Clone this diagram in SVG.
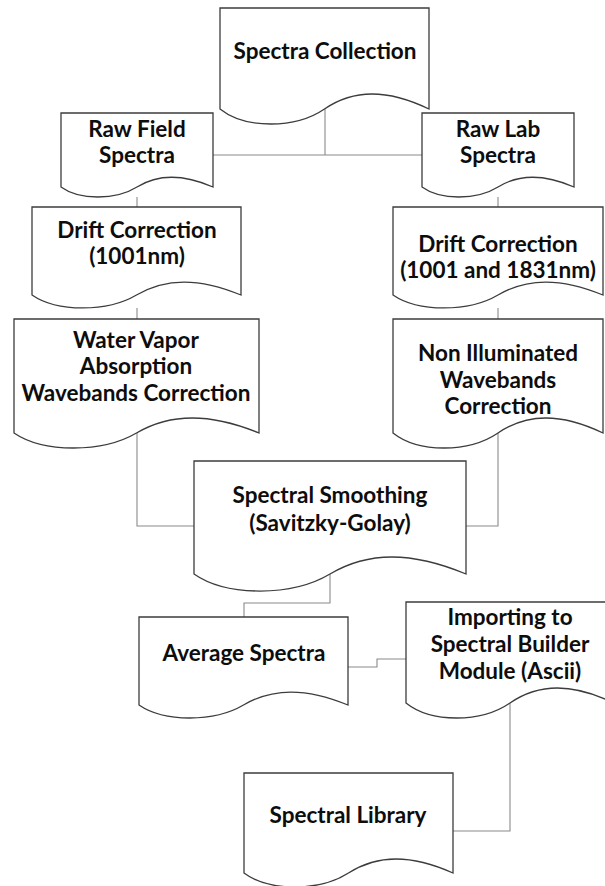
<svg xmlns="http://www.w3.org/2000/svg" width="605" height="886" viewBox="0 0 605 886">
<style>
.box{fill:#ffffff;stroke:#3c3c3c;stroke-width:1.3;stroke-linejoin:miter}
.t{font-family:Lato,"Open Sans","Liberation Sans",sans-serif;font-weight:bold;font-size:22.5px;fill:#0d0d0d;text-anchor:middle}
.c{fill:none;stroke:#8a8a8a;stroke-width:1.1}
</style>
<rect width="605" height="886" fill="#ffffff"/>
<g id="connectors">
<path class="c" d="M325,109 V155 M213,155 H422"/>
<path class="c" d="M137,197 V207"/>
<path class="c" d="M498,197 V207"/>
<path class="c" d="M137,308 V319"/>
<path class="c" d="M498,308 V319"/>
<path class="c" d="M137,433 V526 H194"/>
<path class="c" d="M498,433 V526 H466"/>
<path class="c" d="M330,574 V603 H244 V617"/>
<path class="c" d="M348,667 H377 V659 H406"/>
<path class="c" d="M510,703 V831 H453"/>
</g>
<g id="spectra-collection">
<path class="box" d="M220,8 H429 V109 C387.2,89 353.8,89 324.5,109 C295.2,129 245.1,129 220,109 Z"/>
<text class="t" x="325" y="59">Spectra Collection</text>
</g>
<g id="raw-field">
<path class="box" d="M61,113 H213 V187 C182.6,173.7 158.3,173.7 137,187 C115.7,200.3 79.2,200.3 61,187 Z"/>
<text class="t" x="137" y="137">Raw Field</text>
<text class="t" x="137" y="163">Spectra</text>
</g>
<g id="raw-lab">
<path class="box" d="M422,113 H574 V187 C543.6,173.7 519.3,173.7 498,187 C476.7,200.3 440.2,200.3 422,187 Z"/>
<text class="t" x="498" y="137">Raw Lab</text>
<text class="t" x="498" y="163">Spectra</text>
</g>
<g id="drift-field">
<path class="box" d="M32,207 H241 V295 C199.2,277.7 165.8,277.7 136.5,295 C107.2,312.3 57.1,312.3 32,295 Z"/>
<text class="t" x="137" y="238">Drift Correction</text>
<text class="t" x="137" y="264">(1001nm)</text>
</g>
<g id="drift-lab">
<path class="box" d="M393,207 H603 V295 C561,277.7 527.4,277.7 498,295 C468.6,312.3 418.2,312.3 393,295 Z"/>
<text class="t" x="498" y="252">Drift Correction</text>
<text class="t" x="498" y="278">(1001 and 1831nm)</text>
</g>
<g id="water-vapor">
<path class="box" d="M14,319 H259 V433 C210,413 170.8,413 136.5,433 C102.2,453 43.4,453 14,433 Z"/>
<text class="t" x="136" y="348">Water Vapor</text>
<text class="t" x="136" y="374">Absorption</text>
<text class="t" x="136" y="401">Wavebands Correction</text>
</g>
<g id="non-illuminated">
<path class="box" d="M393,319 H603 V433 C561,413 527.4,413 498,433 C468.6,453 418.2,453 393,433 Z"/>
<text class="t" x="498" y="361">Non Illuminated</text>
<text class="t" x="498" y="388">Wavebands</text>
<text class="t" x="498" y="414">Correction</text>
</g>
<g id="smoothing">
<path class="box" d="M194,461 H466 V574 C411.6,551.3 368.1,551.3 330,574 C291.9,596.7 226.6,596.7 194,574 Z"/>
<text class="t" x="330" y="503">Spectral Smoothing</text>
<text class="t" x="330" y="531">(Savitzky-Golay)</text>
</g>
<g id="average">
<path class="box" d="M139,617 H348 V705 C306.2,687.7 272.8,687.7 243.5,705 C214.2,722.3 164.1,722.3 139,705 Z"/>
<text class="t" x="244" y="661">Average Spectra</text>
</g>
<g id="importing">
<path class="box" d="M406,602 H614 V703 C572.4,683 539.1,683 510,703 C480.9,723 431,723 406,703 Z"/>
<text class="t" x="510" y="625">Importing to</text>
<text class="t" x="510" y="652">Spectral Builder</text>
<text class="t" x="510" y="679">Module (Ascii)</text>
</g>
<g id="spectral-library">
<path class="box" d="M244,773 H453 V873 C411.2,854.3 377.8,854.3 348.5,873 C319.2,891.7 269.1,891.7 244,873 Z"/>
<text class="t" x="348" y="823">Spectral Library</text>
</g>
</svg>
